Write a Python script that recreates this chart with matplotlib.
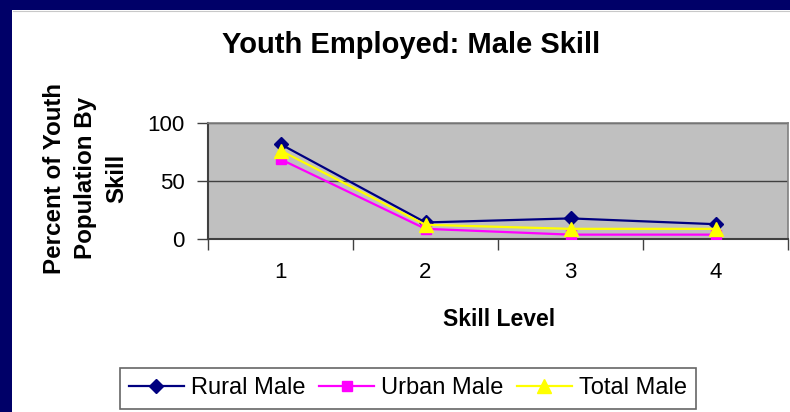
import matplotlib
matplotlib.use("Agg")
import matplotlib.pyplot as plt
from matplotlib.patches import Rectangle
from matplotlib.lines import Line2D

plt.rcParams['font.family'] = ['Liberation Sans', 'DejaVu Sans']

# ---- data ----
skill_levels = [1, 2, 3, 4]
skill_labels = ["1", "2", "3", "4"]
rural_male = [81.5, 14.0, 17.5, 12.5]
urban_male = [68.5, 8.5, 3.5, 3.5]
total_male = [76.0, 12.0, 8.5, 8.5]
y_ticks = [0, 50, 100]
series_names = ["Rural Male", "Urban Male", "Total Male"]

W, H = 790, 412
fig = plt.figure(figsize=(W / 100, H / 100), dpi=100)
fig.patch.set_facecolor("white")

# navy slide border (left and top)
navy = "#000068"
fig.patches.append(Rectangle((0, 0), 12 / W, 1, transform=fig.transFigure,
                             facecolor=navy, edgecolor="none", zorder=0))
fig.patches.append(Rectangle((0, 1 - 10 / H), 1, 10 / H, transform=fig.transFigure,
                             facecolor=navy, edgecolor="none", zorder=0))
fig.lines.append(Line2D([12.5 / W, 1], [1 - 10.5 / H, 1 - 10.5 / H], transform=fig.transFigure,
                        color="#c8c8c8", lw=0.8))

# axes placement
left, right = 208 / W, 788 / W
bottom, top = 1 - 238.7 / H, 1 - 122.7 / H
ax = fig.add_axes([left, bottom, right - left, top - bottom])
ax.set_facecolor("#C0C0C0")

ax.plot(skill_levels, rural_male, color="#000080", lw=1.6, marker="D", ms=7.5,
        markerfacecolor="#000080", markeredgecolor="#000080", label=series_names[0], zorder=3)
ax.plot(skill_levels, urban_male, color="#FF00FF", lw=1.6, marker="s", ms=7.5,
        markerfacecolor="#FF00FF", markeredgecolor="#FF00FF", label=series_names[1], zorder=4)
ax.plot(skill_levels, total_male, color="#FFFF00", lw=1.6, marker="^", ms=10,
        markerfacecolor="#FFFF00", markeredgecolor="#FFFF00", label=series_names[2], zorder=5)

ax.set_xlim(0.5, 4.5)
ax.set_ylim(0, 100)

# y axis
ax.set_yticks(y_ticks)
ax.set_yticklabels([str(v) for v in y_ticks])
ax.tick_params(axis="y", direction="out", length=8, width=1, color="#404040",
               labelsize=16, pad=9)
ax.yaxis.grid(True, color="#404040", lw=1)
ax.set_axisbelow(True)

# x axis: tick marks at category boundaries, labels at centers
ax.set_xticks([0.5, 1.5, 2.5, 3.5, 4.5])
ax.set_xticklabels([])
ax.tick_params(axis="x", which="major", direction="out", length=8, width=1, color="#404040")
ax.set_xticks(skill_levels, minor=True)
ax.set_xticklabels(skill_labels, minor=True)
ax.tick_params(axis="x", which="minor", length=0, labelsize=16, pad=17)

for side in ["left", "bottom"]:
    ax.spines[side].set_color("#404040")
    ax.spines[side].set_linewidth(1.5)
for side in ["top", "right"]:
    ax.spines[side].set_color("#808080")
    ax.spines[side].set_linewidth(1.2)

# texts
fig.text(411 / W, 1 - 45 / H, "Youth Employed: Male Skill", ha="center", va="center",
         fontsize=21, fontweight="bold")
fig.text(85.5 / W, 1 - 178 / H, "Percent of Youth\nPopulation By\nSkill", ha="center", va="center",
         rotation=90, fontsize=17.4, fontweight="bold", linespacing=1.45)
fig.text(499 / W, 1 - 320 / H, "Skill Level", ha="center", va="center",
         fontsize=16.5, fontweight="bold")

leg = fig.legend(loc="center", bbox_to_anchor=(408 / W, 1 - 388.5 / H), ncol=3,
                 fontsize=17, frameon=True, fancybox=False, edgecolor="#404040",
                 handlelength=2.3, handletextpad=0.3, columnspacing=0.6,
                 borderpad=0.4, borderaxespad=0)
leg.get_frame().set_linewidth(1.2)

fig.savefig("out.png", dpi=100, facecolor=fig.get_facecolor())
